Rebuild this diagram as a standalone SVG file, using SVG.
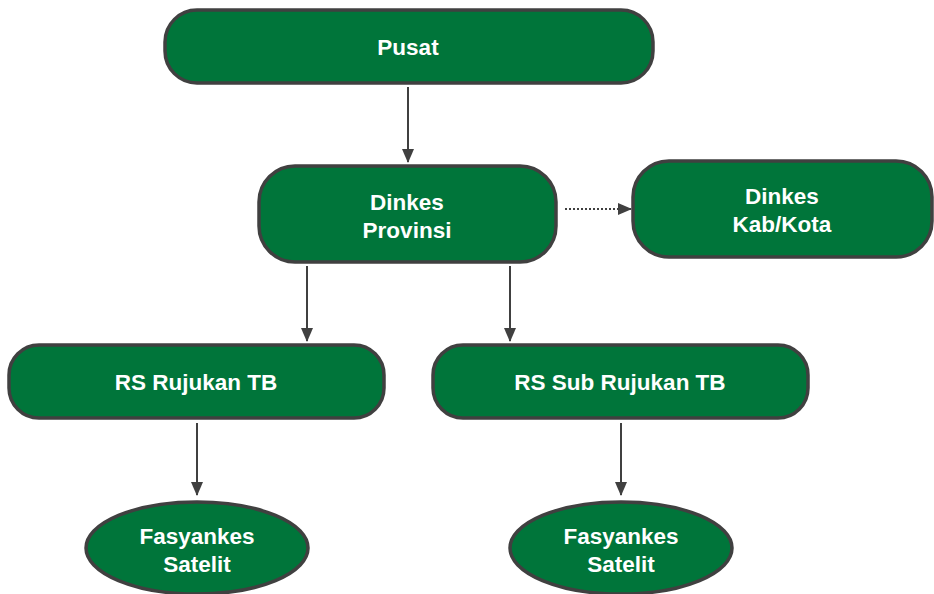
<svg xmlns="http://www.w3.org/2000/svg" width="934" height="594" viewBox="0 0 934 594">
<defs>
<style>
.n{fill:#00753a;stroke:#404040;stroke-width:3.5}
.t{fill:#ffffff;font-family:"Liberation Sans",Arial,sans-serif;font-weight:bold;font-size:22.5px;text-anchor:middle}
.c{stroke:#404040;stroke-width:2;fill:none}
.d{stroke:#404040;stroke-width:2;fill:none;stroke-dasharray:2 2}
</style>
<marker id="ah" markerWidth="14" markerHeight="12" refX="13" refY="6" orient="auto" markerUnits="userSpaceOnUse">
<path d="M0,0 L14,6 L0,12 Z" fill="#404040"/>
</marker>
</defs>
<rect width="934" height="594" fill="#ffffff"/>
<g id="connectors">
<line class="c" x1="408" y1="87" x2="408" y2="162" marker-end="url(#ah)"/>
<line class="d" x1="565" y1="209" x2="631" y2="209" marker-end="url(#ah)"/>
<line class="c" x1="307" y1="266" x2="307" y2="341" marker-end="url(#ah)"/>
<line class="c" x1="510" y1="266" x2="510" y2="341" marker-end="url(#ah)"/>
<line class="c" x1="197" y1="423" x2="197" y2="495" marker-end="url(#ah)"/>
<line class="c" x1="621" y1="423" x2="621" y2="495" marker-end="url(#ah)"/>
</g>
<g id="pusat">
<rect class="n" x="165" y="10" width="488" height="73" rx="32"/>
<text class="t" x="408" y="55">Pusat</text>
</g>
<g id="dinkes-provinsi">
<rect class="n" x="259" y="166" width="297" height="96" rx="36"/>
<text class="t" x="407" y="210">Dinkes</text>
<text class="t" x="407" y="238">Provinsi</text>
</g>
<g id="dinkes-kabkota">
<rect class="n" x="633" y="161" width="299" height="96" rx="36"/>
<text class="t" x="782" y="204">Dinkes</text>
<text class="t" x="782" y="232">Kab/Kota</text>
</g>
<g id="rs-rujukan">
<rect class="n" x="9" y="345" width="375" height="73" rx="30"/>
<text class="t" x="196" y="390">RS Rujukan TB</text>
</g>
<g id="rs-sub-rujukan">
<rect class="n" x="433" y="345" width="375" height="73" rx="30"/>
<text class="t" x="620" y="390">RS Sub Rujukan TB</text>
</g>
<g id="fasyankes-1">
<ellipse class="n" cx="197" cy="548" rx="111" ry="46"/>
<text class="t" x="197" y="544">Fasyankes</text>
<text class="t" x="197" y="572">Satelit</text>
</g>
<g id="fasyankes-2">
<ellipse class="n" cx="621" cy="548" rx="111" ry="46"/>
<text class="t" x="621" y="544">Fasyankes</text>
<text class="t" x="621" y="572">Satelit</text>
</g>
</svg>
